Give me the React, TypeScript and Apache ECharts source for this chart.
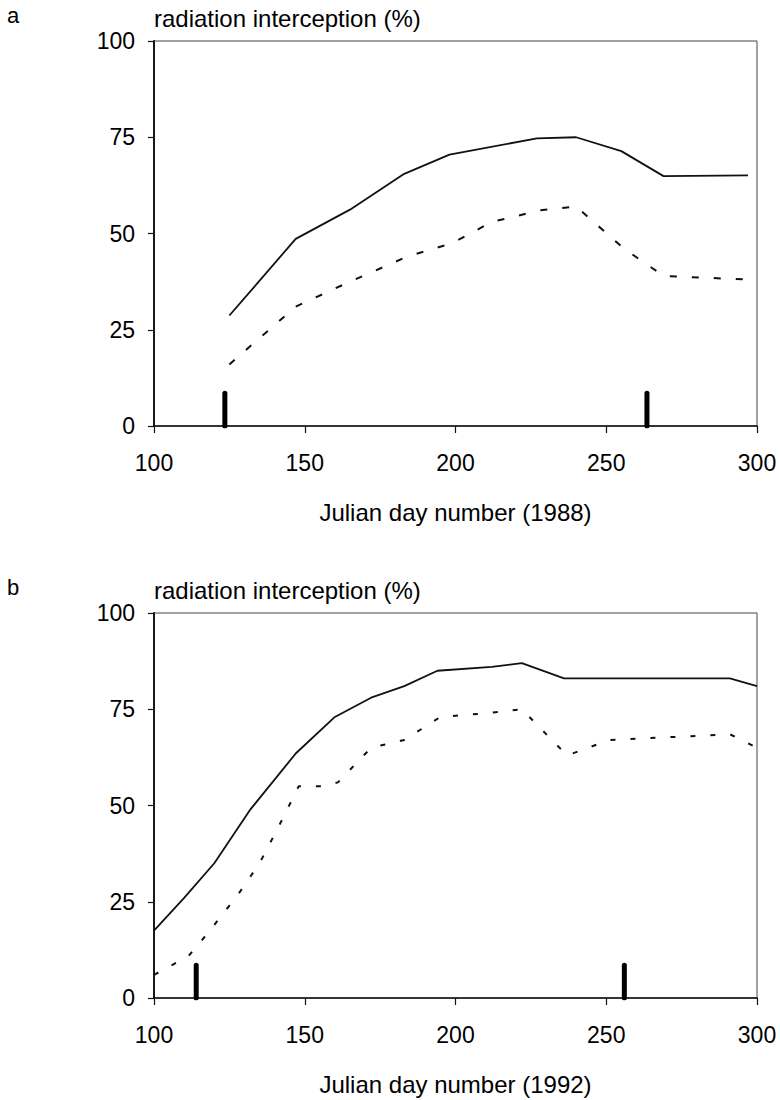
import React, { useEffect, useRef } from "react";
import * as echarts from "echarts";

// Julian day / interception (%) readings, 1988 season
const days1988Upper = [125, 147, 165, 183, 198, 227, 240, 255, 269, 297];
const upper1988 = [28.7, 48.6, 56.2, 65.5, 70.5, 74.7, 75, 71.4, 64.9, 65.1];
const days1988Lower = [125, 147, 165, 184, 199, 212, 228, 240, 256, 269, 283, 298];
const lower1988 = [16, 31, 37.5, 44, 47.5, 53, 56, 57, 46, 39, 38.5, 38];

// 1992 season
const days1992Upper = [100, 110, 120, 132, 147, 160, 172, 183, 194, 212, 222, 236, 291, 300];
const upper1992 = [17.5, 26, 35, 49, 63.5, 73, 78, 81, 85, 86, 87, 83, 83, 81];
const days1992Lower = [100, 107, 111, 118, 128, 135, 141, 148, 156, 161, 172, 183, 195, 211, 222, 237, 251, 291, 300];
const lower1992 = [6, 9, 10.5, 17, 27, 35, 44, 55, 55, 56, 65, 67, 73, 74, 75, 63, 67, 68.5, 65];

// Event markers drawn as short thick bars on the day axis
const markerDays1988 = [123.5, 263.5];
const markerDays1992 = [114, 256];
const markerHeight = 8.5;

const yTicks = [0, 25, 50, 75, 100];
const xTicks = [100, 150, 200, 250, 300];
const panelLetters = ["a", "b"];
const yTitle = "radiation interception (%)";
const xTitles = ["Julian day number (1988)", "Julian day number (1992)"];

const FONT = "Liberation Sans";
const INK = "#111";

const zip = (xs: number[], ys: number[]) => xs.map((x, i) => [x, ys[i]]);

export default function App() {
  const ref = useRef<HTMLDivElement>(null);

  useEffect(() => {
    if (!ref.current) return;
    const chart = echarts.init(ref.current, null, { renderer: "svg" });

    const panelTops = [41, 613];
    const plotH = 385;
    const left = 154;
    const right = 23;

    const grids = panelTops.map((top) => ({
      left,
      right,
      top,
      height: plotH,
      show: true,
      borderColor: "#444",
      borderWidth: 1,
      containLabel: false,
    }));

    const xAxes = [0, 1].map((i) => ({
      type: "value",
      gridIndex: i,
      min: xTicks[0],
      max: xTicks[xTicks.length - 1],
      interval: 50,
      axisLine: { show: true, onZero: false, lineStyle: { color: INK, width: 1.7 } },
      axisTick: { show: true, length: 7, lineStyle: { color: INK, width: 1.2 } },
      axisLabel: { color: "#000", fontSize: 23, fontFamily: FONT, margin: 25 },
      splitLine: { show: false },
    }));

    const yAxes = [0, 1].map((i) => ({
      type: "value",
      gridIndex: i,
      min: yTicks[0],
      max: yTicks[yTicks.length - 1],
      interval: 25,
      axisLine: { show: true, lineStyle: { color: INK, width: 1.9 } },
      axisTick: { show: true, length: 6, lineStyle: { color: INK, width: 1.2 } },
      axisLabel: { color: "#000", fontSize: 23, fontFamily: FONT, margin: 19 },
      splitLine: { show: false },
    }));

    const lineSeries = (
      idx: number,
      data: number[][],
      dashed: boolean,
      dash: number[] = [7, 14]
    ) => ({
      type: "line",
      xAxisIndex: idx,
      yAxisIndex: idx,
      data,
      showSymbol: false,
      symbol: "none",
      silent: true,
      lineStyle: {
        color: INK,
        width: dashed ? 2 : 1.8,
        type: dashed ? dash : "solid",
      },
    });

    const markerSeries = (idx: number, day: number) => ({
      type: "line",
      xAxisIndex: idx,
      yAxisIndex: idx,
      data: [
        [day, 0],
        [day, markerHeight],
      ],
      symbol: "none",
      silent: true,
      lineStyle: { color: "#000", width: 5, cap: "round" },
    });

    const texts: any[] = [];
    panelTops.forEach((top, i) => {
      texts.push({
        type: "text",
        x: 7,
        y: top - 26,
        style: {
          text: panelLetters[i],
          font: `22px '${FONT}'`,
          fill: "#000",
          verticalAlign: "middle",
        },
      });
      texts.push({
        type: "text",
        x: left,
        y: top - 23,
        style: {
          text: yTitle,
          font: `24px '${FONT}'`,
          fill: "#000",
          verticalAlign: "middle",
        },
      });
      texts.push({
        type: "text",
        x: 455.5,
        y: top + plotH + 86,
        style: {
          text: xTitles[i],
          font: `24px '${FONT}'`,
          fill: "#000",
          align: "center",
          verticalAlign: "middle",
        },
      });
    });

    chart.setOption({
      animation: false,
      backgroundColor: "#fff",
      grid: grids,
      xAxis: xAxes,
      yAxis: yAxes,
      graphic: texts,
      series: [
        lineSeries(0, zip(days1988Upper, upper1988), false),
        lineSeries(0, zip(days1988Lower, lower1988), true, [7, 15]),
        lineSeries(1, zip(days1992Upper, upper1992), false),
        lineSeries(1, zip(days1992Lower, lower1992), true, [5, 15]),
        ...markerDays1988.map((d) => markerSeries(0, d)),
        ...markerDays1992.map((d) => markerSeries(1, d)),
      ],
    });

    return () => chart.dispose();
  }, []);

  return (
    <div
      ref={ref}
      style={{ position: "absolute", left: 0, top: 0, width: 780, height: 1100, background: "#fff" }}
    />
  );
}
